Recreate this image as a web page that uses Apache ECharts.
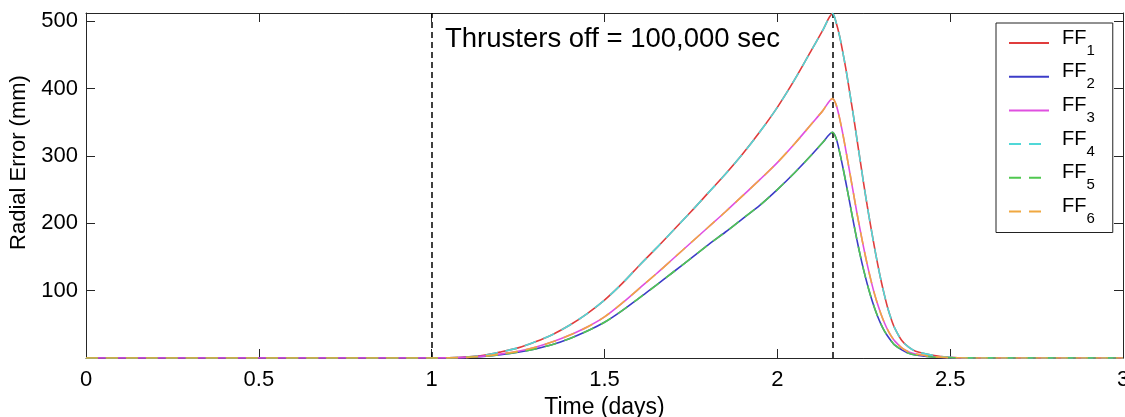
<!DOCTYPE html>
<html><head><meta charset="utf-8">
<script src="https://cdn.jsdelivr.net/npm/echarts@6/dist/echarts.min.js"></script>
<style>html,body{margin:0;padding:0;background:#fff}#c{width:1125px;height:417px}</style>
</head><body><div id="c"></div>
<script>
// ---- data ----
const days = [0, 1.00, 1.05, 1.10, 1.15, 1.20, 1.25, 1.30, 1.35, 1.40, 1.45, 1.50, 1.55, 1.60, 1.65, 1.70, 1.75, 1.80, 1.85, 1.90, 1.95, 2.00, 2.05, 2.10, 2.13, 2.16,
  2.17, 2.18, 2.19, 2.20, 2.21, 2.22, 2.23, 2.24, 2.25, 2.26, 2.27, 2.28, 2.29, 2.30, 2.31, 2.32, 2.33, 2.34, 2.36, 2.38, 2.40, 2.45, 2.50, 2.55, 3.00];
const ff1 = [0, 0, 0.3, 1.5, 4, 9, 15, 24, 35, 49, 66, 86, 110, 137, 163, 190, 217, 245, 273, 303, 336, 372, 413, 458, 485, 511,
  498, 478, 452, 424, 392, 360, 326, 292, 258, 226, 196, 167, 140, 115, 93, 73, 57, 44, 26, 16, 10, 4, 1, 0.2, 0];
const ff2 = [0, 0, 0.2, 0.9, 2.4, 5, 8.5, 13.5, 20, 29, 40, 53, 70, 89, 108, 128, 148, 168, 187, 207, 227, 250, 275, 302, 319, 335,
  326, 306, 282, 256, 229, 202, 176, 152, 130, 110, 92, 76, 62, 50, 40, 32, 25, 19, 12, 7, 4.5, 1.5, 0.4, 0.1, 0];
const ff3 = [0, 0, 0.2, 1, 2.8, 6, 10, 16, 24, 34, 46, 61, 81, 103, 125, 148, 171, 194, 217, 241, 265, 290, 318, 348, 366, 385,
  376, 356, 331, 303, 274, 245, 216, 189, 163, 139, 117, 97, 80, 65, 52, 41, 32, 25, 15, 9, 6, 2, 0.5, 0.1, 0];
// FF4..FF6 lie exactly on FF1..FF3 in the reference
const ff4 = ff1.slice();
const ff5 = ff2.slice();
const ff6 = ff3.slice();
const seriesNames = ['FF1', 'FF2', 'FF3', 'FF4', 'FF5', 'FF6'];
const seriesValues = [ff1, ff2, ff3, ff4, ff5, ff6];
const eventDays = [1.0, 2.16];          // thrusters on / thrusters off (+100,000 s)
const xTicks = {min: 0, max: 3, interval: 0.5};
const yTicks = {min: 0, max: 512, interval: 100};
const annotation = 'Thrusters off = 100,000 sec';

// ---- styling ----
const FONT = '"Liberation Sans", Arial, Helvetica, sans-serif';
const colors = ['#e03c3c', '#3c3cc8', '#e050e0', '#50d8d8', '#50c850', '#f0a840'];
const axisColor = '#262626';

const chart = echarts.init(document.getElementById('c'), null, {renderer: 'canvas'});

const series = seriesNames.map((n, i) => ({
  name: n,
  type: 'line',
  data: days.map((d, j) => [d, seriesValues[i][j]]),
  symbol: 'none',
  showSymbol: false,
  smooth: 0.3,
  clip: true,
  z: 2 + i,
  lineStyle: {color: colors[i], width: 1.6, type: i >= 3 ? [12, 8] : 'solid'},
  itemStyle: {color: colors[i]},
  emphasis: {disabled: true}
}));
series[5].markLine = {
  silent: true,
  symbol: ['none', 'none'],
  label: {show: false},
  emphasis: {disabled: true},
  lineStyle: {color: '#000', type: [6, 4], width: 1.5},
  data: eventDays.map(d => ({xAxis: d}))
};

const boxAxis = {
  axisLine: {show: true, onZero: false, lineStyle: {color: axisColor, width: 1}},
  axisTick: {show: true, inside: true, length: 9, lineStyle: {color: axisColor, width: 1}},
  splitLine: {show: false}
};

chart.setOption({
  animation: false,
  backgroundColor: '#fff',
  grid: {left: 86, right: 2, top: 13, bottom: 59, containLabel: false, outerBoundsMode: 'none'},
  xAxis: [
    Object.assign({
      type: 'value', min: xTicks.min, max: xTicks.max, interval: xTicks.interval, position: 'bottom',
      axisLabel: {fontSize: 22, color: '#000', margin: 11, fontFamily: FONT},
      name: 'Time (days)', nameLocation: 'middle', nameGap: 32,
      nameTextStyle: {fontSize: 23, color: '#000', fontFamily: FONT}
    }, boxAxis),
    Object.assign({
      type: 'value', min: xTicks.min, max: xTicks.max, interval: xTicks.interval, position: 'top',
      axisLabel: {show: false}
    }, boxAxis)
  ],
  yAxis: [
    Object.assign({
      type: 'value', min: yTicks.min, max: yTicks.max, interval: yTicks.interval, position: 'left',
      axisLabel: {fontSize: 22, color: '#000', margin: 8, fontFamily: FONT,
        formatter: v => (v > 0 && v % 100 === 0) ? String(v) : ''},
      name: 'Radial Error (mm)', nameLocation: 'middle', nameGap: 54,
      nameTextStyle: {fontSize: 22, color: '#000', fontFamily: FONT, padding: [0, 0, 0, 46]}
    }, boxAxis),
    Object.assign({
      type: 'value', min: yTicks.min, max: yTicks.max, interval: yTicks.interval, position: 'right',
      axisLabel: {show: false}
    }, boxAxis)
  ],
  legend: {
    orient: 'vertical', left: 996, top: 23,
    padding: [5, 18, 6, 12],
    itemGap: 3.7, itemWidth: 40, itemHeight: 14, itemTextGap: 14,
    backgroundColor: '#fff', borderColor: '#222', borderWidth: 1, borderRadius: 0,
    selectedMode: false,
    itemStyle: {opacity: 0},
    data: seriesNames,
    formatter: name => '{a|' + name.slice(0, 2) + '}{s|' + name.slice(2) + '}',
    textStyle: {
      fontFamily: FONT, color: '#000',
      rich: {
        a: {fontSize: 20, fontFamily: FONT, color: '#000', verticalAlign: 'top', padding: [0, 0, 0, 8]},
        s: {fontSize: 15, fontFamily: FONT, color: '#000', verticalAlign: 'bottom', lineHeight: 30}
      }
    }
  },
  graphic: [{
    type: 'text', left: 445, top: 25, silent: true,
    style: {text: annotation, fontSize: 27.5, fontFamily: FONT, fill: '#000'}
  }],
  series: series
});
</script>
</body></html>
